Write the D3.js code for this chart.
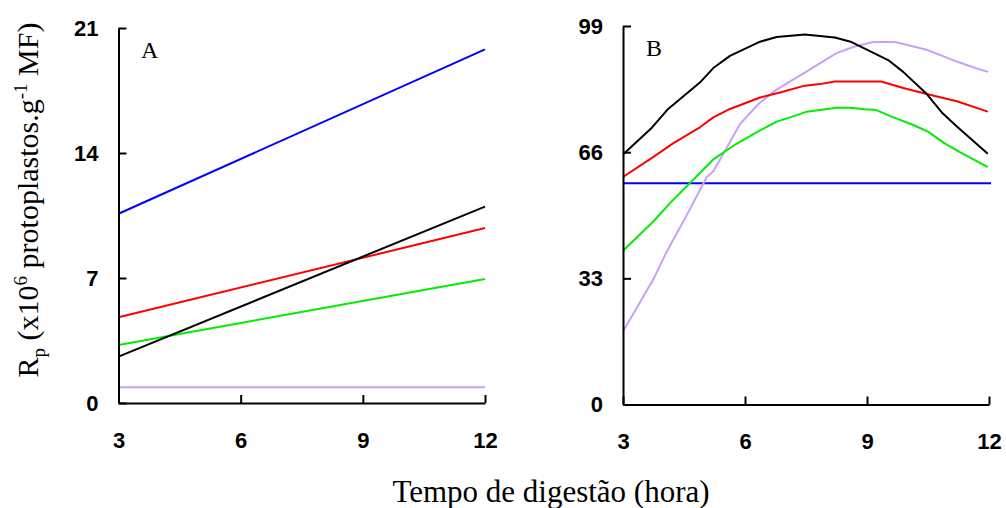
<!DOCTYPE html>
<html><head><meta charset="utf-8">
<script src="https://cdn.jsdelivr.net/npm/d3@7"></script>
<style>
body{margin:0;background:#fff;}
svg{display:block;}
.tick text{font-family:"Liberation Sans",Arial,sans-serif;font-weight:bold;font-size:22px;fill:#000;}
</style></head>
<body><svg id="chart" width="1006" height="508"></svg>
<script>
// ---- data ----
const xTicks = [3, 6, 9, 12];
const yTicksA = [0, 7, 14, 21];
const yTicksB = [0, 33, 66, 99];
const seriesColors = {blue:"#0000ff", black:"#000000", red:"#ff0000", green:"#00ee00", purple:"#c8a0f8"};

// Panel A (linear)
const hoursA = [3, 12];
const aBlue = [10.6, 19.8];
const aBlack = [2.6, 11.0];
const aRed = [4.8, 9.8];
const aGreen = [3.25, 6.95];
const aPurple = [0.88, 0.88];

// Panel B (curves)
const bBlueX = [3, 12.05];
const bBlue = [57.9, 57.9];
const bBlackX = [3.0, 3.71, 4.11, 4.89, 5.22, 5.63, 6.37, 6.78, 7.47, 8.21, 8.62, 9.52, 9.89, 10.47, 10.84, 11.21, 11.97];
const bBlack  = [65.4, 72.4, 77.3, 84.2, 88.0, 91.2, 94.9, 96.1, 96.8, 96.0, 94.8, 90.1, 87.0, 81.2, 76.4, 72.7, 65.6];
const bRedX = [3.0, 3.74, 4.23, 4.89, 5.22, 5.63, 6.0, 6.37, 6.86, 7.47, 7.84, 8.21, 8.95, 9.35, 9.89, 10.47, 11.21, 11.97];
const bRed  = [59.5, 64.7, 68.3, 72.5, 75.1, 77.3, 78.8, 80.3, 81.6, 83.4, 83.8, 84.5, 84.5, 84.5, 82.8, 81.2, 79.3, 76.6];
const bGreenX = [3.0, 3.74, 4.15, 5.22, 5.79, 6.37, 6.78, 7.11, 7.52, 7.84, 8.25, 8.58, 8.95, 9.23, 9.56, 10.14, 10.51, 10.88, 11.25, 11.97];
const bGreen  = [40.2, 47.8, 52.6, 64.1, 68.2, 71.7, 74.0, 75.1, 76.6, 77.0, 77.6, 77.6, 77.2, 77.0, 75.5, 73.1, 71.3, 68.5, 66.2, 62.1];
const bPurpleX = [3.0, 3.74, 4.07, 4.52, 5.06, 5.22, 5.51, 5.88, 6.33, 6.74, 7.06, 7.47, 8.25, 8.66, 9.15, 9.69, 10.47, 11.21, 11.70, 11.98];
const bPurple  = [19.1, 32.6, 39.9, 48.6, 59.5, 61.0, 66.4, 73.4, 78.6, 82.1, 84.2, 86.8, 91.9, 93.5, 94.8, 94.8, 92.8, 89.7, 87.9, 87.0];

const svg = d3.select("#chart");
const serif = "'Liberation Serif','Times New Roman',serif";

function panel(opts){
  const g = svg.append("g");
  const x = d3.scaleLinear().domain([3,12]).range(opts.xr);
  const y = d3.scaleLinear().domain(opts.yd).range(opts.yr);
  const line = d3.line().x(d=>x(d[0])).y(d=>y(d[1]));
  opts.series.forEach(s=>{
    g.append("path").datum(d3.zip(s.x, s.y))
      .attr("fill","none").attr("stroke",seriesColors[s.c]).attr("stroke-width",2)
      .attr("stroke-linejoin","round").attr("d",line);
  });
  const xa = g.append("g").attr("transform",`translate(0,${opts.yr[0]})`)
    .call(d3.axisBottom(x).tickValues(xTicks).tickSize(-8).tickSizeOuter(0).tickPadding(29).tickFormat(d3.format("d")));
  const ya = g.append("g").attr("transform",`translate(${opts.xr[0]},0)`)
    .call(d3.axisLeft(y).tickValues(opts.yt).tickSize(-8).tickSizeOuter(0).tickPadding(20).tickFormat(d3.format("d")));
  [xa,ya].forEach(a=>{
    a.select(".domain").attr("stroke","#000").attr("stroke-width",2);
    a.selectAll(".tick line").attr("stroke","#000").attr("stroke-width",2);
  });
  xa.selectAll(".tick text").attr("dy","0.71em");
  g.append("text").attr("x",opts.lab[0]).attr("y",opts.lab[1])
    .attr("font-family",serif).attr("font-size",24)
    .text(opts.label);
}

panel({xr:[118.5,485], yr:[403,28], yd:[0,21], yt:yTicksA, label:"A", lab:[141,58],
  series:[
    {x:hoursA, y:aPurple, c:"purple"},
    {x:hoursA, y:aBlue, c:"blue"},
    {x:hoursA, y:aGreen, c:"green"},
    {x:hoursA, y:aRed, c:"red"},
    {x:hoursA, y:aBlack, c:"black"}
  ]});

panel({xr:[623,989], yr:[404.5,26], yd:[0,99], yt:yTicksB, label:"B", lab:[646,56],
  series:[
    {x:bBlueX, y:bBlue, c:"blue"},
    {x:bPurpleX, y:bPurple, c:"purple"},
    {x:bGreenX, y:bGreen, c:"green"},
    {x:bRedX, y:bRed, c:"red"},
    {x:bBlackX, y:bBlack, c:"black"}
  ]});

// axis titles
svg.append("text").attr("x",551).attr("y",502).attr("text-anchor","middle")
  .attr("font-family",serif).attr("font-size",31).text("Tempo de digestão (hora)");

const yt = svg.append("text").attr("transform","translate(38,200) rotate(-90)")
  .attr("text-anchor","middle").attr("font-family",serif).attr("font-size",30);
yt.append("tspan").text("R");
yt.append("tspan").attr("font-size",19).attr("dy",7).text("p");
yt.append("tspan").attr("dy",-7).text(" (x10");
yt.append("tspan").attr("font-size",19).attr("dy",-11).text("6");
yt.append("tspan").attr("dy",11).text(" protoplastos.g");
yt.append("tspan").attr("font-size",19).attr("dy",-11).text("-1");
yt.append("tspan").attr("dy",11).text(" MF)");
</script></body></html>
